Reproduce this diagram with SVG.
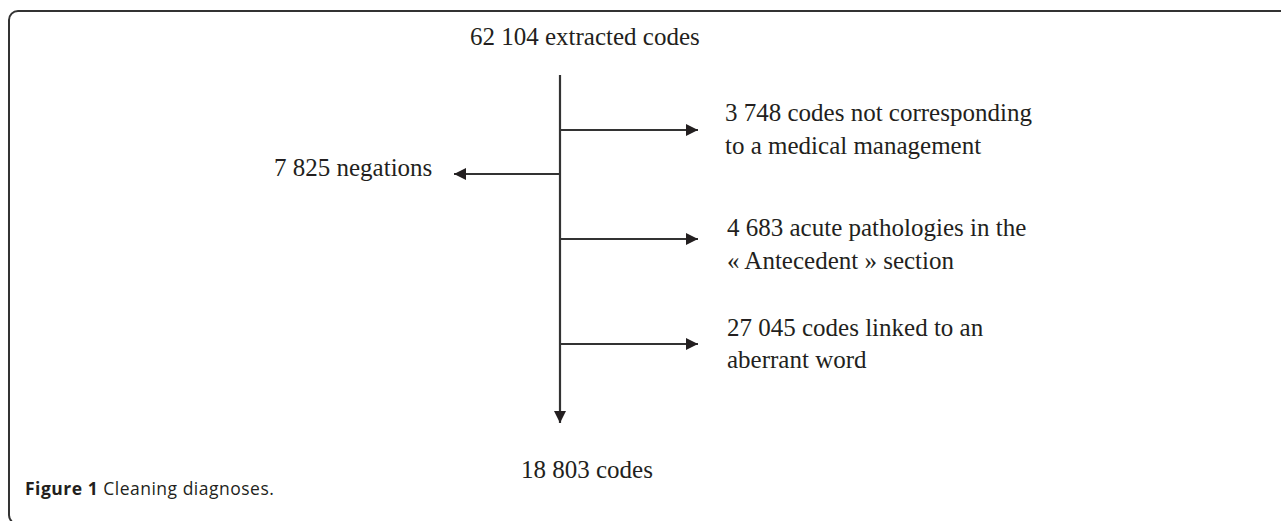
<svg xmlns="http://www.w3.org/2000/svg" width="1281" height="521" viewBox="0 0 1281 521">
<style>
.t{font-family:"Liberation Serif","Times New Roman",serif;font-size:25px;fill:#231f20}
.c{font-family:"Open Sans","Noto Sans",sans-serif;font-size:17.5px;letter-spacing:0.5px;fill:#231f20}
.ln{stroke:#333;stroke-width:2.2;fill:none}
</style>
<defs>
<marker id="ah" markerWidth="12" markerHeight="12" refX="12" refY="6" orient="auto" markerUnits="userSpaceOnUse">
<path d="M0,0 L12,6 L0,12 Z" fill="#231f20"/>
</marker>
</defs>
<rect width="1281" height="521" fill="#fff"/>
<rect x="9" y="11" width="1300" height="513" rx="9" ry="9" fill="none" stroke="#333" stroke-width="2"/>
<g id="connectors">
<line class="ln" x1="560" y1="75" x2="560" y2="423" marker-end="url(#ah)"/>
<line class="ln" x1="560" y1="130" x2="698" y2="130" marker-end="url(#ah)"/>
<line class="ln" x1="560" y1="174" x2="454" y2="174" marker-end="url(#ah)"/>
<line class="ln" x1="560" y1="239" x2="698" y2="239" marker-end="url(#ah)"/>
<line class="ln" x1="560" y1="344" x2="698" y2="344" marker-end="url(#ah)"/>
</g>
<g id="start"><text class="t" x="470" y="45">62 104 extracted codes</text></g>
<g id="notmedical"><text class="t" x="725" y="121">3 748 codes not corresponding</text><text class="t" x="725" y="154">to a medical management</text></g>
<g id="negations"><text class="t" x="274" y="176">7 825 negations</text></g>
<g id="acute"><text class="t" x="727" y="236">4 683 acute pathologies in the</text><text class="t" x="727" y="269">« Antecedent » section</text></g>
<g id="aberrant"><text class="t" x="727" y="336">27 045 codes linked to an</text><text class="t" x="727" y="368">aberrant word</text></g>
<g id="end"><text class="t" x="521" y="478">18 803 codes</text></g>
<g id="caption"><text class="c" x="25" y="495"><tspan font-weight="bold">Figure 1</tspan> Cleaning diagnoses.</text></g>
</svg>
